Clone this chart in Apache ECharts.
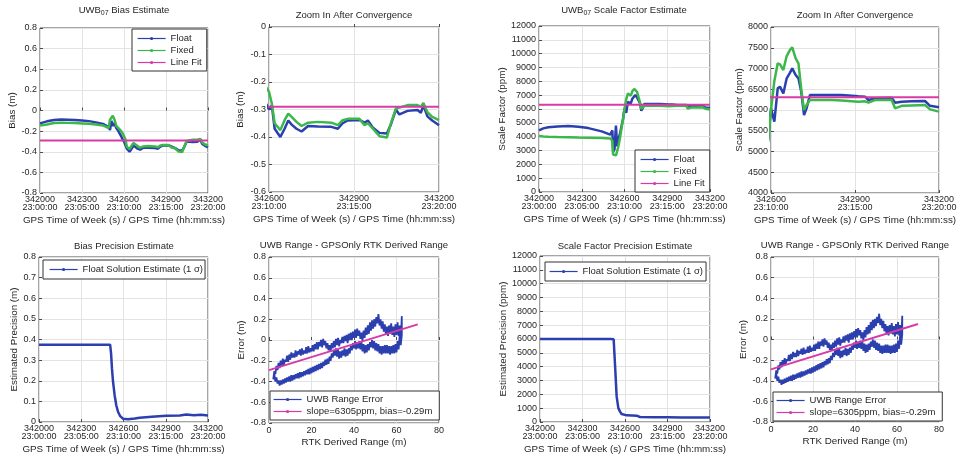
<!DOCTYPE html>
<html><head><meta charset="utf-8">
<script src="https://cdn.jsdelivr.net/npm/echarts@6/dist/echarts.min.js"></script>
<style>html,body{margin:0;padding:0;background:#fff}#c{width:961px;height:459px}</style>
</head><body><div id="c"></div>
<script>
// ---------------- DATA ----------------
const timeTickSec = [342000, 342300, 342600, 342900, 343200];
const timeTickClock = ['23:00:00', '23:05:00', '23:10:00', '23:15:00', '23:20:00'];

const biasTime = [342000, 342050, 342100, 342150, 342200, 342250, 342300, 342350, 342400, 342450, 342490, 342500, 342510, 342520, 342530, 342545, 342560, 342580, 342590, 342600, 342610, 342620, 342640, 342655, 342668, 342680, 342697, 342715, 342738, 342773, 342820, 342843, 342860, 342878, 342919, 342937, 342949, 342966, 342990, 343016, 343030, 343048, 343060, 343089, 343124, 343136, 343145, 343159, 343176, 343200];
const biasFloat = [-0.125, -0.105, -0.092, -0.088, -0.09, -0.092, -0.097, -0.103, -0.115, -0.13, -0.16, -0.19, -0.1, -0.15, -0.12, -0.17, -0.2, -0.25, -0.28, -0.30, -0.285, -0.37, -0.40, -0.37, -0.34, -0.355, -0.37, -0.38, -0.36, -0.362, -0.363, -0.37, -0.35, -0.34, -0.338, -0.348, -0.34, -0.365, -0.385, -0.387, -0.355, -0.30, -0.318, -0.305, -0.302, -0.312, -0.285, -0.325, -0.34, -0.357];
const biasFixed = [-0.145, -0.135, -0.122, -0.118, -0.12, -0.122, -0.125, -0.128, -0.135, -0.145, -0.17, -0.09, -0.07, -0.05, -0.08, -0.15, -0.17, -0.2, -0.22, -0.236, -0.278, -0.35, -0.375, -0.339, -0.315, -0.327, -0.345, -0.36, -0.348, -0.345, -0.348, -0.357, -0.339, -0.334, -0.334, -0.357, -0.35, -0.369, -0.397, -0.402, -0.351, -0.296, -0.293, -0.284, -0.284, -0.29, -0.276, -0.31, -0.327, -0.339];
const fitTime = [342000, 343200];
const biasFit = [-0.29, -0.29];

const scaleTime = [342000, 342030, 342065, 342130, 342206, 342276, 342346, 342440, 342500, 342510, 342515, 342520, 342530, 342540, 342548, 342555, 342570, 342590, 342600, 342612, 342624, 342632, 342644, 342656, 342668, 342676, 342688, 342698, 342708, 342718, 342727, 342739, 342817, 342852, 342912, 342936, 342948, 342971, 343031, 343043, 343067, 343102, 343150, 343168, 343200];
const scaleFloat = [4450, 4600, 4680, 4740, 4770, 4720, 4620, 4380, 4150, 4100, 4450, 2900, 3100, 4800, 3300, 3700, 4300, 5300, 6040, 5719, 6522, 6562, 6400, 6763, 6900, 7004, 6843, 6763, 6442, 5880, 6040, 6361, 6361, 6361, 6330, 6321, 6241, 6281, 6297, 6177, 6201, 6210, 6217, 6100, 6064];
const scaleFixed = [4050, 4020, 4000, 3980, 3960, 3940, 3930, 3900, 3870, 3850, 3700, 2700, 2600, 2650, 2700, 3200, 4000, 5300, 6000, 6700, 7124, 7100, 6964, 7300, 7450, 7510, 7245, 7124, 6500, 6000, 6120, 6241, 6241, 6230, 6201, 6210, 6177, 6240, 6241, 6040, 6100, 6110, 6120, 6016, 5960];
const scaleFit = [6305, 6305];

const biasPrecTime = [342000, 342100, 342200, 342300, 342400, 342505, 342512, 342518, 342525, 342537, 342549, 342561, 342575, 342596, 342632, 342680, 342715, 342800, 342904, 343000, 343046, 343100, 343150, 343200];
const biasPrec = [0.375, 0.375, 0.375, 0.375, 0.375, 0.375, 0.33, 0.26, 0.2, 0.13, 0.08, 0.05, 0.03, 0.016, 0.013, 0.017, 0.021, 0.025, 0.03, 0.032, 0.036, 0.033, 0.035, 0.032];

const scalePrecTime = [342000, 342100, 342200, 342300, 342400, 342500, 342520, 342529, 342541, 342553, 342565, 342576, 342612, 342650, 342682, 342706, 342800, 342900, 343000, 343100, 343200];
const scalePrec = [6000, 6000, 6000, 6000, 6000, 6000, 5980, 4250, 1850, 1000, 750, 580, 480, 470, 455, 360, 340, 335, 330, 330, 325];

// [RTK derived range (m), UWB range error (m)] in time order
const uwbRangeError = [
[2,-0.38],[2.5,-0.3],[3,-0.33],[3.5,-0.25],[4,-0.29],[4.5,-0.22],[5,-0.27],[5.5,-0.2],[6,-0.25],[6.5,-0.18],[7,-0.24],[7.5,-0.19],[8,-0.21],[8.5,-0.15],[9,-0.21],[9.5,-0.14],[10,-0.19],[10.5,-0.12],[11,-0.17],[11.5,-0.13],[12,-0.17],[12.5,-0.1],[13,-0.16],[13.5,-0.11],[14,-0.14],[14.5,-0.09],[15,-0.15],[15.5,-0.08],[16,-0.14],[16.5,-0.1],[17,-0.13],[17.5,-0.07],[18,-0.13],[18.5,-0.06],[19,-0.12],[19.5,-0.08],[20,-0.11],[20.5,-0.05],[21,-0.11],[21.5,-0.04],[22,-0.09],[22.5,-0.02],[23,-0.09],[23.5,-0.02],[24,-0.06],[24.5,0.0],[25,-0.07],[25.5,0.01],[26,-0.05],[26.5,-0.01],[27,-0.08],[27.5,-0.03],[28,-0.1],[28.5,-0.05],[29,-0.11],[29.5,-0.03],[30,-0.08],[30.5,-0.01],[31,-0.07],[31.5,0.01],[32,-0.05],[32.5,0.02],[33,-0.06],[33.5,0.0],[34,-0.03],[34.5,0.03],[35,-0.03],[35.5,0.04],[36,-0.01],[36.5,0.05],[37,-0.03],[37.5,0.06],[38,0.0],[38.5,0.07],[39,0.0],[39.5,0.08],[40,0.02],[40.5,0.1],[41,0.02],[41.5,0.11],[42,0.04],[42.5,0.09],[43,0.01],[43.5,0.07],[44,-0.01],[44.5,0.09],[45,0.02],[45.5,0.12],[46,0.05],[46.5,0.14],[47,0.06],[47.5,0.17],[48,0.09],[48.5,0.19],[49,0.11],[49.5,0.2],[50,0.13],[50.5,0.22],[51,0.16],[51.5,0.25],[52,0.14],[52.5,0.2],[53,0.11],[53.5,0.18],[54,0.08],[54.5,0.15],[55,0.05],[55.5,0.13],[56,0.04],[56.5,0.14],[57,0.06],[57.5,0.16],[58,0.05],[58.5,0.13],[59,0.03],[59.5,0.15],[60,0.05],[60.5,0.17],[61,0.04],[61.5,0.14],[62,-0.01],[62.5,0.23],
[62.5,0.05],[62,-0.05],[61.5,0.05],[61,-0.09],[60.5,-0.01],[60,-0.12],[59.5,-0.04],[59,-0.13],[58.5,-0.05],[58,-0.13],[57.5,-0.06],[57,-0.14],[56.5,-0.06],[56,-0.13],[55.5,-0.05],[55,-0.13],[54.5,-0.05],[54,-0.13],[53.5,-0.06],[53,-0.14],[52.5,-0.06],[52,-0.13],[51.5,-0.04],[51,-0.11],[50.5,-0.03],[50,-0.1],[49.5,-0.01],[49,-0.08],[48.5,0.0],[48,-0.07],[47.5,-0.02],[47,-0.1],[46.5,-0.04],[46,-0.12],[45.5,-0.05],[45,-0.13],[44.5,-0.04],[44,-0.11],[43.5,-0.02],[43,-0.09],[42.5,-0.01],[42,-0.08],[41.5,-0.02],[41,-0.09],[40.5,-0.01],[40,-0.08],[39.5,-0.03],[39,-0.1],[38.5,-0.06],[38,-0.13],[37.5,-0.08],[37,-0.15],[36.5,-0.09],[36,-0.16],[35.5,-0.08],[35,-0.15],[34.5,-0.1],[34,-0.17],[33.5,-0.11],[33,-0.18],[32.5,-0.09],[32,-0.16],[31.5,-0.08],[31,-0.15],[30.5,-0.1],[30,-0.17],[29.5,-0.13],[29,-0.2],[28.5,-0.16],[28,-0.23],[27.5,-0.18],[27,-0.24],[26.5,-0.19],[26,-0.25],[25.5,-0.21],[25,-0.27],[24.5,-0.22],[24,-0.28],[23.5,-0.23],[23,-0.29],[22.5,-0.24],[22,-0.3],[21.5,-0.25],[21,-0.31],[20.5,-0.26],[20,-0.32],[19.5,-0.27],[19,-0.33],[18.5,-0.28],[18,-0.33],[17.5,-0.29],[17,-0.34],[16.5,-0.3],[16,-0.35],[15.5,-0.31],[15,-0.36],[14.5,-0.31],[14,-0.37],[13.5,-0.32],[13,-0.37],[12.5,-0.33],[12,-0.38],[11.5,-0.34],[11,-0.39],[10.5,-0.34],[10,-0.4],[9.5,-0.35],[9,-0.4],[8.5,-0.36],[8,-0.41],[7.5,-0.37],[7,-0.42],[6.5,-0.38],[6,-0.43],[5.5,-0.39],[5,-0.44],[4.5,-0.39],[4,-0.42],[3.5,-0.36],[3,-0.4],[2.5,-0.33]
];
const fitRange = [0, 70];
const fitError = [-0.29, 0.151];

// ---------------- STYLE ----------------
const FONT = 'Liberation Sans, Arial, Helvetica, sans-serif';
const TXT = '#262626';
const BLUE = '#2b3fae', GREEN = '#3cb84a', MAGENTA = '#d73ba6';
const xTimeName = 'GPS Time of Week (s) / GPS Time (hh:mm:ss)';
const zip = (xs, ys) => xs.map((x, i) => [x, ys[i]]);

const grids = [
  {left: 40, top: 28, width: 168, height: 165},
  {left: 269, top: 27, width: 170, height: 165},
  {left: 539, top: 26, width: 171, height: 166},
  {left: 771, top: 27, width: 168, height: 166},
  {left: 39, top: 257, width: 169, height: 165},
  {left: 269, top: 257, width: 170, height: 166},
  {left: 540, top: 256, width: 170, height: 166},
  {left: 771, top: 257, width: 168, height: 165}
].map(g => Object.assign({show: true, borderColor: '#4a4a4a', borderWidth: 1, backgroundColor: '#fff'}, g));

const splitStyle = {show: true, lineStyle: {color: '#e3e3e3', width: 1}};
const tickStyle = {show: true, inside: true, length: 3, lineStyle: {color: '#4a4a4a'}};
const nameStyle = {fontFamily: FONT, fontSize: 9.8, color: TXT};

function xTime(gi, min) {
  return {gridIndex: gi, type: 'value', min: min, max: 343200, interval: 300,
    name: xTimeName, nameLocation: 'middle', nameGap: 22, nameTextStyle: nameStyle,
    axisLine: {show: false}, axisTick: tickStyle, splitLine: splitStyle,
    axisLabel: {fontFamily: FONT, fontSize: 9, color: TXT, lineHeight: 8, margin: 3,
      showMinLabel: true, showMaxLabel: true,
      formatter: v => { const i = timeTickSec.indexOf(v); return i < 0 ? String(v) : v + '\n' + timeTickClock[i]; }}};
}
function xRange(gi) {
  return {gridIndex: gi, type: 'value', min: 0, max: 80, interval: 20,
    name: 'RTK Derived Range (m)', nameLocation: 'middle', nameGap: 14, nameTextStyle: nameStyle,
    axisLine: {show: false}, axisTick: tickStyle, splitLine: splitStyle,
    axisLabel: {fontFamily: FONT, fontSize: 9, color: TXT, margin: 3}};
}
function yVal(gi, min, max, interval, name, gap) {
  return {gridIndex: gi, type: 'value', min: min, max: max, interval: interval,
    name: name, nameLocation: 'middle', nameGap: gap, nameTextStyle: nameStyle,
    axisLine: {show: false}, axisTick: tickStyle, splitLine: splitStyle,
    axisLabel: {fontFamily: FONT, fontSize: 9, color: TXT, margin: 3,
      formatter: v => String(parseFloat(v.toFixed(6)))}};
}
function line(name, gi, data, color, width) {
  return {type: 'line', name: name, xAxisIndex: gi, yAxisIndex: gi, data: data,
    showSymbol: false, symbol: 'circle', color: color, clip: true,
    lineStyle: {color: color, width: width}, emphasis: {disabled: true}};
}
function legend(names, left, top, padding) {
  return {data: names, left: left, top: top, orient: 'vertical', selectedMode: false,
    itemWidth: 28, itemHeight: 4, itemGap: 1, padding: padding,
    borderColor: '#333', borderWidth: 1, backgroundColor: '#fff',
    lineStyle: {width: 1.2}, textStyle: {fontFamily: FONT, fontSize: 9.5, color: TXT, lineHeight: 11}};
}
function title(text, cx, top) {
  return {text: text, left: cx, top: top, textAlign: 'center', padding: 0,
    textStyle: {fontFamily: FONT, fontSize: 9.5, fontWeight: 'normal', color: TXT,
      rich: {sub: {fontFamily: FONT, fontSize: 7, color: TXT, padding: [6, 0, 0, 0], lineHeight: 10}}}};
}

const sigmaName = 'Float Solution Estimate (1 σ)';
const fitName = 'slope=6305ppm, bias=-0.29m';

const option = {
  animation: false,
  backgroundColor: '#fff',
  title: [
    title('UWB{sub|07} Bias Estimate', 124, 5),
    title('Zoom In After Convergence', 354, 10),
    title('UWB{sub|07} Scale Factor Estimate', 624, 5),
    title('Zoom In After Convergence', 855, 10),
    title('Bias Precision Estimate', 124, 241),
    title('UWB Range - GPSOnly RTK Derived Range', 354, 240),
    title('Scale Factor Precision Estimate', 625, 241),
    title('UWB Range - GPSOnly RTK Derived Range', 855, 240)
  ],
  grid: grids,
  xAxis: [xTime(0, 342000), xTime(1, 342600), xTime(2, 342000), xTime(3, 342600),
          xTime(4, 342000), xRange(5), xTime(6, 342000), xRange(7)],
  yAxis: [
    yVal(0, -0.8, 0.8, 0.2, 'Bias (m)', 22),
    yVal(1, -0.6, 0, 0.1, 'Bias (m)', 24),
    yVal(2, 0, 12000, 1000, 'Scale Factor (ppm)', 29),
    yVal(3, 4000, 8000, 500, 'Scale Factor (ppm)', 24),
    yVal(4, 0, 0.8, 0.1, 'Estimated Precision (m)', 20),
    yVal(5, -0.8, 0.8, 0.2, 'Error (m)', 20),
    yVal(6, 0, 12000, 1000, 'Estimated Precision (ppm)', 29),
    yVal(7, -0.8, 0.8, 0.2, 'Error (m)', 20)
  ],
  legend: [
    legend(['Float', 'Fixed', 'Line Fit'], 132, 29, [4, 5, 3, 5]),
    legend(['Float', 'Fixed', 'Line Fit'], 635, 150, [4, 5, 3, 5]),
    legend([sigmaName], 43, 260, [4, 2, 4, 6]),
    legend(['UWB Range Error', fitName], 270, 391, [3, 7, 3, 3]),
    legend([sigmaName], 545, 262, [4, 3, 4, 4]),
    legend(['UWB Range Error', fitName], 773, 392, [3, 7, 3, 3])
  ],
  series: [
    line('Float', 0, zip(biasTime, biasFloat), BLUE, 2.5),
    line('Fixed', 0, zip(biasTime, biasFixed), GREEN, 2.5),
    line('Line Fit', 0, zip(fitTime, biasFit), MAGENTA, 2),
    line('Float', 1, zip(biasTime, biasFloat), BLUE, 2.5),
    line('Fixed', 1, zip(biasTime, biasFixed), GREEN, 2.5),
    line('Line Fit', 1, zip(fitTime, biasFit), MAGENTA, 2),
    line('Float', 2, zip(scaleTime, scaleFloat), BLUE, 2.5),
    line('Fixed', 2, zip(scaleTime, scaleFixed), GREEN, 2.5),
    line('Line Fit', 2, zip(fitTime, scaleFit), MAGENTA, 2),
    line('Float', 3, zip(scaleTime, scaleFloat), BLUE, 2.5),
    line('Fixed', 3, zip(scaleTime, scaleFixed), GREEN, 2.5),
    line('Line Fit', 3, zip(fitTime, scaleFit), MAGENTA, 2),
    line(sigmaName, 4, zip(biasPrecTime, biasPrec), BLUE, 2.5),
    line('UWB Range Error', 5, uwbRangeError, BLUE, 1.8),
    line(fitName, 5, zip(fitRange, fitError), MAGENTA, 2),
    line(sigmaName, 6, zip(scalePrecTime, scalePrec), BLUE, 2.5),
    line('UWB Range Error', 7, uwbRangeError, BLUE, 1.8),
    line(fitName, 7, zip(fitRange, fitError), MAGENTA, 2)
  ]
};

const chart = echarts.init(document.getElementById('c'), null, {renderer: 'canvas'});
chart.setOption(option);
</script>
</body></html>
